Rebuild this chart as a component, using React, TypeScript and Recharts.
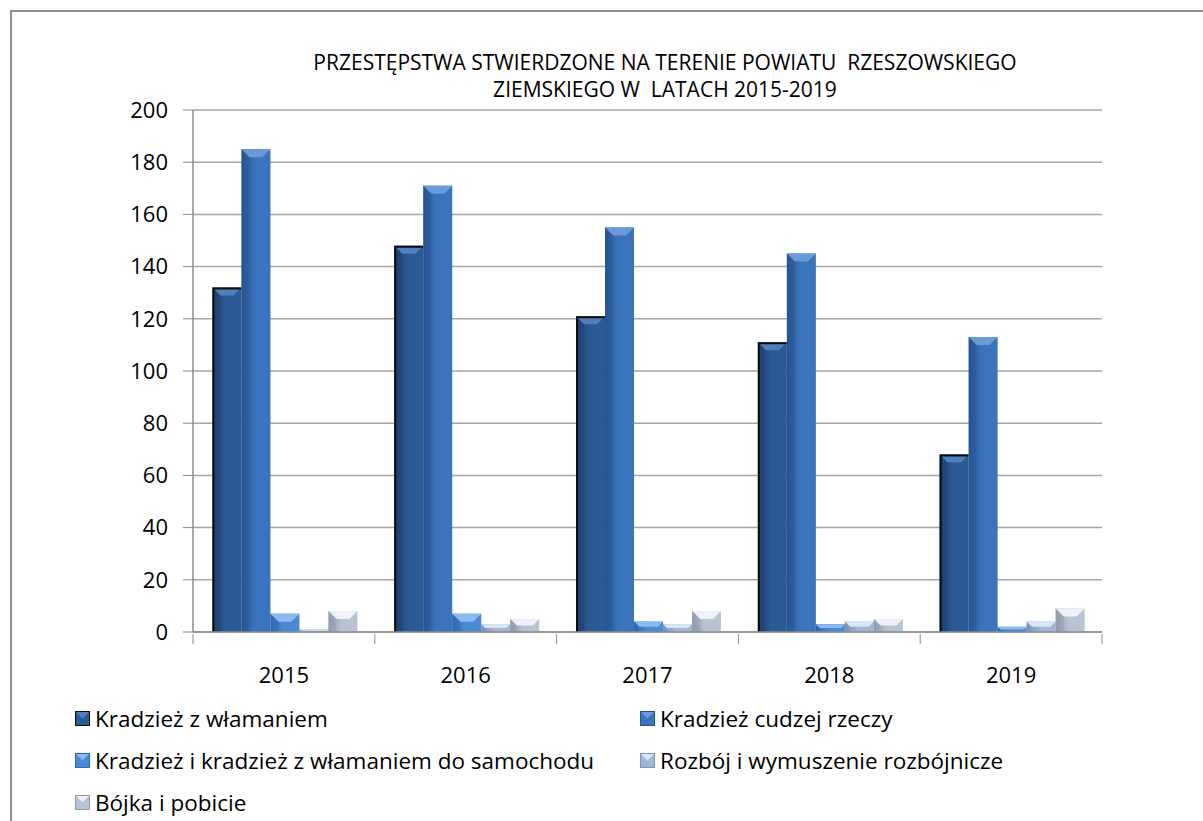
import { BarChart, Bar, XAxis, YAxis, CartesianGrid } from "recharts";

const years = ["2015", "2016", "2017", "2018", "2019"];
const wlamanie = [132, 148, 121, 111, 68];
const cudzejRzeczy = [185, 171, 155, 145, 113];
const samochody = [7, 7, 4, 3, 2];
const rozboj = [1, 3, 3, 4, 4];
const bojka = [8, 5, 8, 5, 9];
const yTicks = [0, 20, 40, 60, 80, 100, 120, 140, 160, 180, 200];

const series = [
  { key: "wlamanie", name: "Kradzież z włamaniem", base: "#2c5a94", light: "#4f7fbf", dark: "#1d3f6c", outline: "#0d0d0d" },
  { key: "cudzej", name: "Kradzież cudzej rzeczy", base: "#3b74bc", light: "#6b9ad6", dark: "#275290", outline: "" },
  { key: "samochod", name: "Kradzież i kradzież z włamaniem do samochodu", base: "#4a8ad4", light: "#8cbaf0", dark: "#2f68b0", outline: "" },
  { key: "rozboj", name: "Rozbój i wymuszenie rozbójnicze", base: "#9fb6d6", light: "#dbe6f4", dark: "#7a93b8", outline: "" },
  { key: "bojka", name: "Bójka i pobicie", base: "#b8c3d3", light: "#eef2f8", dark: "#8f9bae", outline: "" },
];

const data = years.map((year, i) => ({
  year,
  wlamanie: wlamanie[i],
  cudzej: cudzejRzeczy[i],
  samochod: samochody[i],
  rozboj: rozboj[i],
  bojka: bojka[i],
}));

const FONT = "'Open Sans', Lato, sans-serif";

const makeShape = (s: (typeof series)[number]) => (props: any) => {
  const { x, y, width, height } = props;
  if (!height || height <= 0) return <g />;
  const bevel = Math.min(8, height / 2, width / 2);
  return (
    <g>
      <rect x={x} y={y} width={width} height={height} fill={`url(#grad-${s.key})`} />
      <polygon
        points={`${x},${y} ${x + width},${y} ${x + width - bevel},${y + bevel} ${x + bevel},${y + bevel}`}
        fill={s.light}
      />
      <polygon
        points={`${x},${y} ${x + bevel},${y + bevel} ${x + bevel},${y + height} ${x},${y + height}`}
        fill={s.dark}
        opacity={0.35}
      />
      {s.outline && (
        <path
          d={`M${x + 1},${y + height} L${x + 1},${y + 1} L${x + width},${y + 1}`}
          stroke={s.outline}
          strokeWidth={2}
          fill="none"
        />
      )}
    </g>
  );
};

const YearTick = (props: any) => {
  const { x, y, payload, index, visibleTicksCount, width } = props;
  const band = (width || 909) / (visibleTicksCount || 5);
  const left = x - band / 2;
  const right = x + band / 2;
  return (
    <g>
      <line x1={left} y1={y} x2={left} y2={y + 10} stroke="#8c8c8c" />
      {index === (visibleTicksCount || 5) - 1 && (
        <line x1={right} y1={y} x2={right} y2={y + 10} stroke="#8c8c8c" />
      )}
      <text x={x} y={y + 49} textAnchor="middle" fill="#000" fontSize={22} fontFamily={FONT}>
        {payload.value}
      </text>
    </g>
  );
};

const Marker = ({ s }: { s: (typeof series)[number] }) => (
  <svg width={15} height={15} style={{ flexShrink: 0 }}>
    <rect x={0.5} y={0.5} width={14} height={14} fill={s.base} stroke={s.outline || s.dark} />
    <polygon points="1,1 14,1 7.5,7.5" fill={s.light} />
  </svg>
);

export default function App() {
  return (
    <div
      style={{
        position: "absolute",
        left: 0,
        top: 0,
        width: 1203,
        height: 821,
        overflow: "hidden",
        background: "#fff",
      }}
    >
      <div
        style={{
          position: "absolute",
          left: 10,
          top: 10,
          width: 1220,
          height: 840,
          border: "2px solid #8f8f8f",
        }}
      />
      <div
        style={{
          position: "absolute",
          left: 0,
          top: 49,
          width: 1330,
          textAlign: "center",
          fontFamily: FONT,
          fontSize: 21,
          lineHeight: "27px",
          color: "#000",
          whiteSpace: "pre",
        }}
      >
        {"PRZESTĘPSTWA STWIERDZONE NA TERENIE POWIATU  RZESZOWSKIEGO\nZIEMSKIEGO W  LATACH 2015-2019"}
      </div>
      <div style={{ position: "absolute", left: 0, top: 0 }}>
        <BarChart
          width={1203}
          height={821}
          data={data}
          margin={{ top: 110, right: 101, left: 0, bottom: 0 }}
          barCategoryGap="10.7%"
          barGap={0}
        >
          <defs>
            {series.map((s) => (
              <linearGradient key={s.key} id={`grad-${s.key}`} x1="0" y1="0" x2="1" y2="0">
                <stop offset="0%" stopColor={s.dark} />
                <stop offset="45%" stopColor={s.base} />
                <stop offset="100%" stopColor={s.base} />
              </linearGradient>
            ))}
          </defs>
          <CartesianGrid vertical={false} stroke="#a6a6a6" strokeWidth={1.5} />
          <XAxis
            dataKey="year"
            tick={<YearTick />}
            tickLine={false}
            tickSize={0}
            axisLine={{ stroke: "#8c8c8c", strokeWidth: 1.5 }}
            height={189}
            interval={0}
          />
          <YAxis
            domain={[0, 200]}
            ticks={yTicks}
            width={193}
            tickSize={10}
            tickMargin={15}
            tickLine={{ stroke: "#8c8c8c" }}
            axisLine={{ stroke: "#8c8c8c", strokeWidth: 1.5 }}
            tick={{ fill: "#000", fontSize: 22, fontFamily: FONT }}
          />
          {series.map((s) => (
            <Bar
              key={s.key}
              dataKey={s.key}
              name={s.name}
              fill={s.base}
              shape={makeShape(s)}
              isAnimationActive={false}
            />
          ))}
        </BarChart>
      </div>
      <div
        style={{
          position: "absolute",
          left: 75,
          top: 706,
          display: "grid",
          gridTemplateColumns: "565px 500px",
          rowGap: 18,
          fontFamily: FONT,
          fontSize: 22.5,
          color: "#000",
        }}
      >
        {series.map((s) => (
          <div key={s.key} style={{ display: "flex", alignItems: "center", gap: 5, height: 24 }}>
            <Marker s={s} />
            <span>{s.name}</span>
          </div>
        ))}
      </div>
    </div>
  );
}
